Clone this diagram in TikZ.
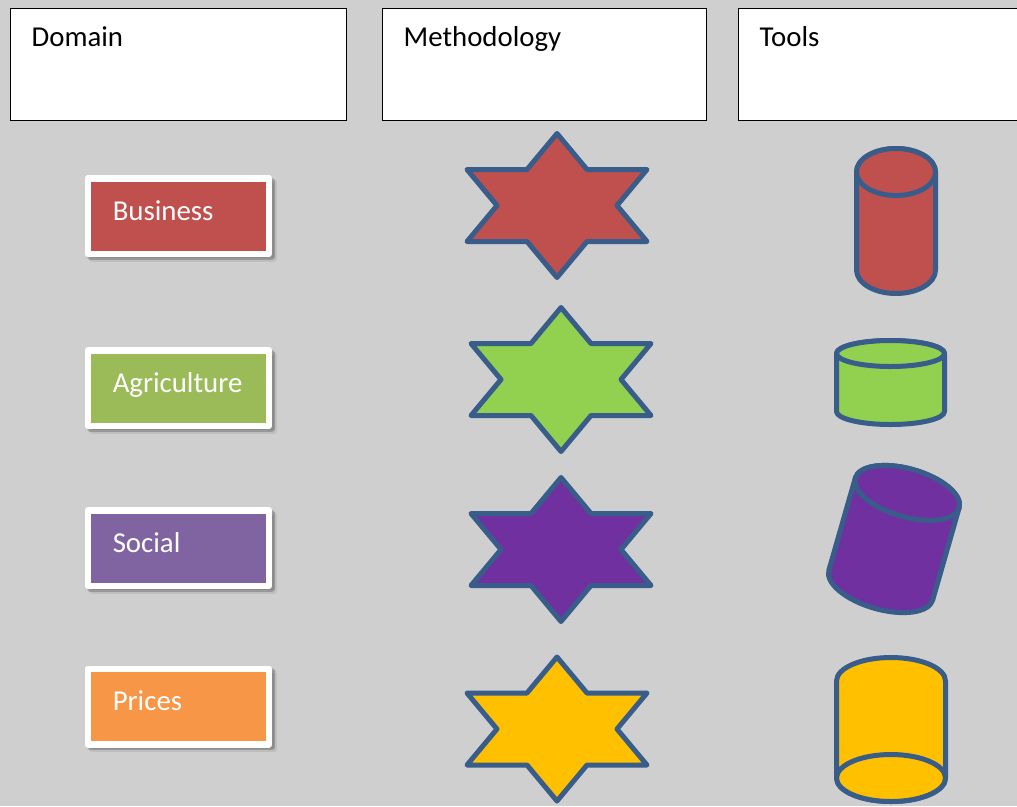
\documentclass[tikz,border=0pt]{standalone}
\usepackage{fontspec}
\setmainfont{Carlito}
\usepackage{tikz}
\usetikzlibrary{shadows}

\definecolor{bggrey}{HTML}{CFCFCF}
\definecolor{outline}{HTML}{385D8A}
\definecolor{busred}{HTML}{C0504D}
\definecolor{agrgreen}{HTML}{9BBB59}
\definecolor{socpurple}{HTML}{8064A2}
\definecolor{priorange}{HTML}{F79646}
\definecolor{shred}{HTML}{C0504D}
\definecolor{shgreen}{HTML}{92D050}
\definecolor{shpurple}{HTML}{7030A0}
\definecolor{shyellow}{HTML}{FFC000}

\tikzstyle{header} = [rectangle, 
anchor=north west, 
minimum height=2.24cm, 
inner xsep=0.42cm, 
inner ysep=0pt, 
text height=0.4cm, 
text depth=1.12cm, 
align=left, 
draw=black, 
line width=0.75pt, 
fill=white, 
font=\fontsize{16.4}{20}\selectfont]
\tikzstyle{domainbox} = [rectangle, 
minimum width=3.63cm, 
minimum height=1.51cm, 
inner xsep=0.5cm, 
inner ysep=0pt, 
text width=2.63cm, 
text height=0.4cm, 
text depth=0.24cm, 
align=left, 
text=white, 
draw=white, 
line width=0.13cm, 
line join=round, 
font=\fontsize{16.4}{20}\selectfont, 
drop shadow={shadow xshift=0.09cm, shadow yshift=-0.09cm, opacity=0.08, fill=black, draw=black, line width=0.13cm}, 
drop shadow={shadow xshift=0.05cm, shadow yshift=-0.05cm, opacity=0.2, fill=black, draw=black, line width=0.13cm}]
\tikzstyle{shapeline} = [draw=outline, line width=0.1cm, line join=round]

% six-pointed star: centre x, centre y, fill
\newcommand{\hexstar}[3]{%
  \draw [shapeline, fill=#3] (#1,#2) ++(0,-72) -- ++(30,36) -- ++(60,0) -- ++(-30,36)
    -- ++(30,36) -- ++(-60,0) -- ++(-30,36) -- ++(-30,-36) -- ++(-60,0)
    -- ++(30,-36) -- ++(-30,-36) -- ++(60,0) -- cycle;}

% cylinder: centre x, centre y, x radius, y radius, half height, angle, fill
\newcommand{\drum}[7]{%
  \begin{scope}[shift={(#1,#2)}, rotate=#6]
    \draw [shapeline, fill=#7] (-#3,-#5) -- (-#3,#5)
      arc[start angle=180, end angle=0, x radius=#3, y radius=#4] -- (#3,-#5)
      arc[start angle=0, end angle=-180, x radius=#3, y radius=#4] -- cycle;
    \draw [shapeline, fill=#7] (0,-#5) ellipse[x radius=#3, y radius=#4];
  \end{scope}}

\begin{document}
\begin{tikzpicture}[x=0.02cm, y=-0.02cm]
    \useasboundingbox (0,0) rectangle (1017,806);
    \fill [bggrey] (0,0) rectangle (1017,806);

    % Column headers
    \node (dom) [header, text width=5.88cm] at (10,8) {Domain};
    \node (meth) [header, text width=5.64cm] at (382,8) {Methodology};
    \node (tools) [header, text width=4.96cm] at (738,8) {Tools};

    % Domains
    \node (bus) [domainbox, fill=busred] at (178.5,216) {Business};
    \node (agr) [domainbox, fill=agrgreen] at (178.5,388) {Agriculture};
    \node (soc) [domainbox, fill=socpurple] at (178.5,548) {Social};
    \node (pri) [domainbox, fill=priorange] at (178.5,706.5) {Prices};

    % Methodology stars
    \hexstar{557}{205.5}{shred}
    \hexstar{561}{379.5}{shgreen}
    \hexstar{561}{549.5}{shpurple}
    \hexstar{557}{729}{shyellow}

    % Tool cylinders
    \drum{896}{221}{39.5}{23.5}{49}{0}{shred}
    \drum{890.5}{382.5}{54}{13}{29}{0}{shgreen}
    \drum{894}{539}{54}{24}{48}{-16}{shpurple}
    \drum{891}{729.5}{54.5}{23.5}{48.5}{180}{shyellow}
  \end{tikzpicture}
\end{document}
